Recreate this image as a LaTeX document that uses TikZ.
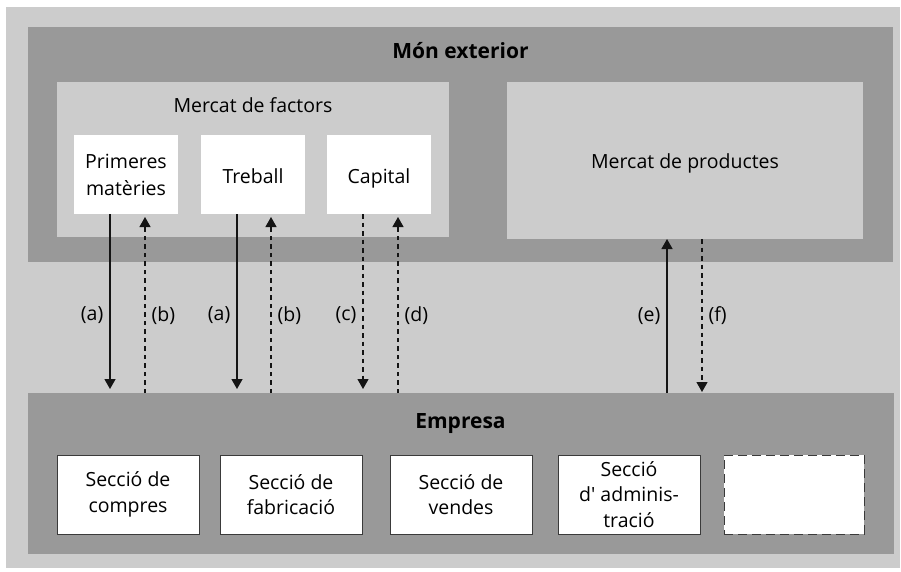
\documentclass[tikz,border=0pt]{standalone}
\usepackage{fontspec}
\setmainfont{Open Sans}
\usetikzlibrary{arrows.meta}
\definecolor{paleGray}{HTML}{CCCCCC}
\definecolor{midGray}{HTML}{999999}
\definecolor{inkGray}{HTML}{141414}
\definecolor{rimGray}{HTML}{3A3A3A}
\begin{document}
\begin{tikzpicture}[x=1pt,y=-1pt,
  region/.style={anchor=north west,inner sep=0pt,outer sep=0pt,draw=none},
  zone/.style={region,fill=midGray},
  market/.style={region,fill=paleGray},
  factor/.style={region,fill=white,minimum width=104pt,minimum height=79pt,
    align=center,font=\fontsize{19.5}{27}\selectfont},
  oneline/.style={text height=19pt,text depth=2pt},
  section/.style={region,fill=white,draw=rimGray,line width=1pt,
    minimum width=142pt,minimum height=79pt,align=center,
    font=\fontsize{19.5}{25.5}\selectfont},
  spare/.style={section,dash pattern=on 9pt off 5pt},
  title/.style={font=\fontsize{21}{24}\selectfont\bfseries,anchor=base},
  plain/.style={font=\fontsize{19.5}{24}\selectfont,anchor=base},
  flowtip/.style={-{Triangle[width=11pt,length=10pt]},line width=1.3pt,draw=inkGray},
  goods/.style={flowtip},
  money/.style={flowtip,line width=1.2pt,dash pattern=on 4.5pt off 4pt},
  tag/.style={font=\fontsize{19.5}{24}\selectfont,inner sep=2pt}
]
\useasboundingbox (0,0) rectangle (901,571);
\fill[white] (0,0) rectangle (901,571);
\fill[paleGray] (6,7) rectangle (900,568);

% outer world
\node[zone,minimum width=865pt,minimum height=235pt] (mon) at (28,27) {};
\node[title] (montitle) at (460.5,58) {Món exterior};

% factor market
\node[market,minimum width=392pt,minimum height=155pt] (factors) at (57,82) {};
\node[plain] (factorstitle) at (253,112) {Mercat de factors};
\node[factor] (prim) at (74,135) {Primeres\\matèries};
\node[factor,oneline] (treb) at (201,135) {Treball};
\node[factor,oneline] (cap) at (327,135) {Capital};

% product market
\node[market,minimum width=356pt,minimum height=157pt] (prod) at (507,82) {};
\node[plain] (prodtitle) at (685,168) {Mercat de productes};

% the firm
\node[zone,minimum width=866pt,minimum height=161pt] (emp) at (28,393) {};
\node[title] (emptitle) at (460.5,428) {Empresa};
\node[section] (compres) at (57,455) {Secció de\\compres};
\node[section] (fabric) at (220,455) {Secció de\\fabricació};
\node[section] (vendes) at (390,455) {Secció de\\vendes};
\node[section] (admin) at (558,455) {Secció\\d\textquotesingle{} adminis-\\tració};
\node[spare,minimum width=140pt] (blank) at (724,455) {};

% flows between the outer world and the firm
\draw[goods] ([xshift=-16pt]prim.south) -- ([xshift=-16pt,yshift=4pt]prim.south |- emp.north)
  node[tag,pos=0.58,left=4pt] {(a)};
\draw[money] ([xshift=19pt]prim.south |- emp.north) -- ([xshift=19pt,yshift=-3pt]prim.south)
  node[tag,pos=0.44,right=4pt] {(b)};
\draw[goods] ([xshift=-16pt]treb.south) -- ([xshift=-16pt,yshift=4pt]treb.south |- emp.north)
  node[tag,pos=0.58,left=4pt] {(a)};
\draw[money] ([xshift=18pt]treb.south |- emp.north) -- ([xshift=18pt,yshift=-3pt]treb.south)
  node[tag,pos=0.44,right=4pt] {(b)};
\draw[money] ([xshift=-16pt]cap.south) -- ([xshift=-16pt,yshift=4pt]cap.south |- emp.north)
  node[tag,pos=0.58,left=4pt] {(c)};
\draw[money] ([xshift=19pt]cap.south |- emp.north) -- ([xshift=19pt,yshift=-3pt]cap.south)
  node[tag,pos=0.44,right=4pt] {(d)};
\draw[goods] ([xshift=-18pt]prod.south |- emp.north) -- ([xshift=-18pt]prod.south)
  node[tag,pos=0.5,left=4pt] {(e)};
\draw[money] ([xshift=17pt]prod.south) -- ([xshift=17pt,yshift=1pt]prod.south |- emp.north)
  node[tag,pos=0.5,right=4pt] {(f)};
\end{tikzpicture}
\end{document}
